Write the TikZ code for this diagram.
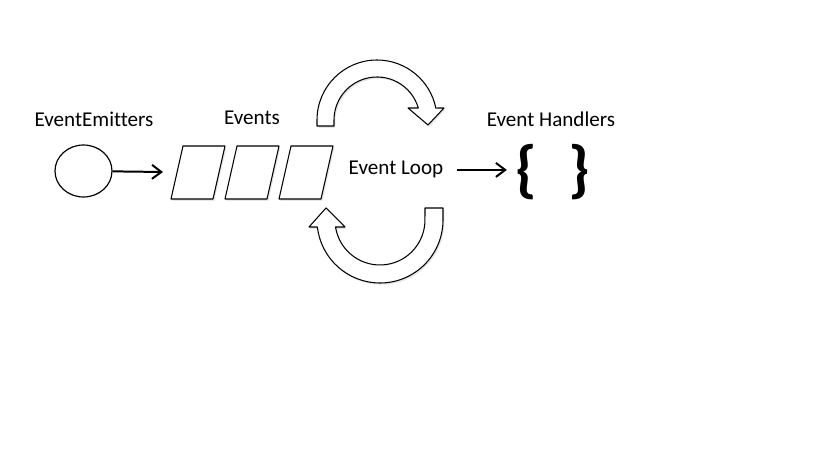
\documentclass[tikz,border=0pt]{standalone}
\usepackage{fontspec}
\setmainfont{Carlito}[Ligatures=NoCommon]
\usetikzlibrary{arrows.meta,shadows,shapes.geometric}
\tikzset{
  etiqueta/.style={font=\fontsize{18}{22}\selectfont, anchor=base, inner sep=0pt},
  llave/.style={font=\fontsize{54}{60}\selectfont\bfseries, inner sep=0pt},
  flecha/.style={line width=1.7pt, -{Straight Barb[length=2.8mm,width=4.2mm]}},
  caja/.style={draw, line width=0.9pt, fill=white, line join=round,
    drop shadow={opacity=0.2, shadow xshift=1.2pt, shadow yshift=-1.5pt}},
  giro/.style={caja}
}
\begin{document}
\begin{tikzpicture}[x=0.03cm, y=-0.03cm]
  \useasboundingbox (0,0) rectangle (819,460);
  % Emisor
  \node[ellipse, draw, line width=1pt, minimum width=1.71cm, minimum height=1.56cm, inner sep=0pt] (emitter) at (83.5,171) {};
  \node[etiqueta] (emtxt) at (94,127) {EventEmitters};
  \coordinate (evin) at (163,172);
  \draw[flecha] (emitter) -- (evin);
  % Cola de eventos
  \foreach \i in {0,1,2} {
    \draw[caja] ({171+54*\i},199) -- ++(42,0) -- ++(12,-53) -- ++(-42,0) -- cycle;
  }
  \node[etiqueta] (evtxt) at (252,125) {Events};
  % Bucle (flecha de arriba y de abajo)
  \draw[giro] (317,126) -- (317,120) arc[start angle=180, end angle=348.5, radius=60]
    -- (444,108) -- (428,125) -- (408,108) -- (418.3,108)
    arc[start angle=343.8, end angle=180, radius=43] -- (334,126) -- cycle;
  \draw[giro] (443,208) -- (443,220) arc[start angle=0, end angle=173.6, radius=63]
    -- (309,227) -- (326,208) -- (345,227) -- (335.5,227)
    arc[start angle=171.05, end angle=0, radius=45] -- (425,208) -- cycle;
  \node[etiqueta] (loop) at (396,175) {Event Loop};
  % Manejadores
  \node[etiqueta] (hdtxt) at (551,127) {Event Handlers};
  \node[llave] (hl) at (526,172) {\{};
  \node[llave] (hr) at (579,172) {\}};
  \draw[flecha, shorten <=0.4cm, shorten >=0.24cm] (loop.east) -- (loop.east -| hl.west);
\end{tikzpicture}
\end{document}
